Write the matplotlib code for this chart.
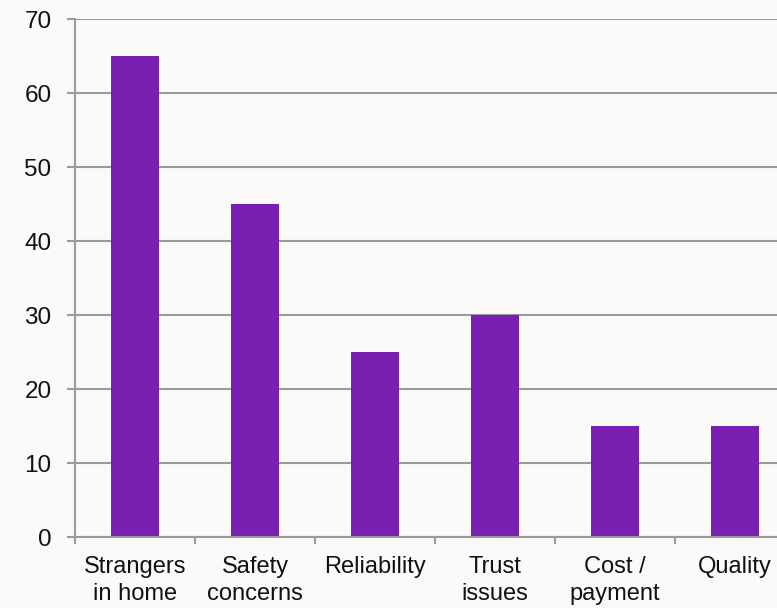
import numpy as np
import matplotlib.pyplot as plt

# Survey counts per concern
categories = ['Strangers\nin home', 'Safety\nconcerns', 'Reliability',
              'Trust\nissues', 'Cost /\npayment', 'Quality']
counts = [65, 45, 25, 30, 15, 15]
y_ticks = [0, 10, 20, 30, 40, 50, 60, 70]

plt.rcParams['font.family'] = ['Liberation Sans', 'DejaVu Sans']

bg = '#FAFAF9'
grid_gray = '#9B9B9B'
bar_color = '#7A1FB2'

fig = plt.figure(figsize=(7.77, 6.08), dpi=100, facecolor=bg)
# The plot area runs a little past the right edge of the canvas
ax = fig.add_axes([75 / 777, 71 / 608, 720 / 777, 518 / 608])
ax.set_facecolor(bg)

x = np.arange(len(categories))
ax.bar(x, counts, width=0.4, color=bar_color, zorder=3)

ax.set_xlim(-0.5, len(categories) - 0.5)
ax.set_ylim(0, 70)
ax.set_yticks(y_ticks)
ax.yaxis.grid(True, color=grid_gray, linewidth=1.5, zorder=0)

# Tick marks sit on category boundaries, labels sit at the centres
ax.set_xticks(np.arange(-0.5, len(categories) + 0.5, 1.0))
ax.set_xticklabels([])
ax.set_xticks(x, minor=True)
ax.set_xticklabels(categories, minor=True, fontsize=17, color='#111111',
                   linespacing=1.25)
ax.tick_params(axis='x', which='major', length=5, width=1.5, color=grid_gray,
               direction='out')
ax.tick_params(axis='x', which='minor', length=0, pad=14)
ax.tick_params(axis='y', length=6, width=1.5, color=grid_gray, pad=11,
               labelsize=17.5, labelcolor='#111111')

for side in ['top', 'right']:
    ax.spines[side].set_visible(False)
for side in ['left', 'bottom']:
    ax.spines[side].set_color(grid_gray)
    ax.spines[side].set_linewidth(1.5)
    ax.spines[side].set_zorder(4)

fig.savefig('out.png', dpi=100, facecolor=bg)
